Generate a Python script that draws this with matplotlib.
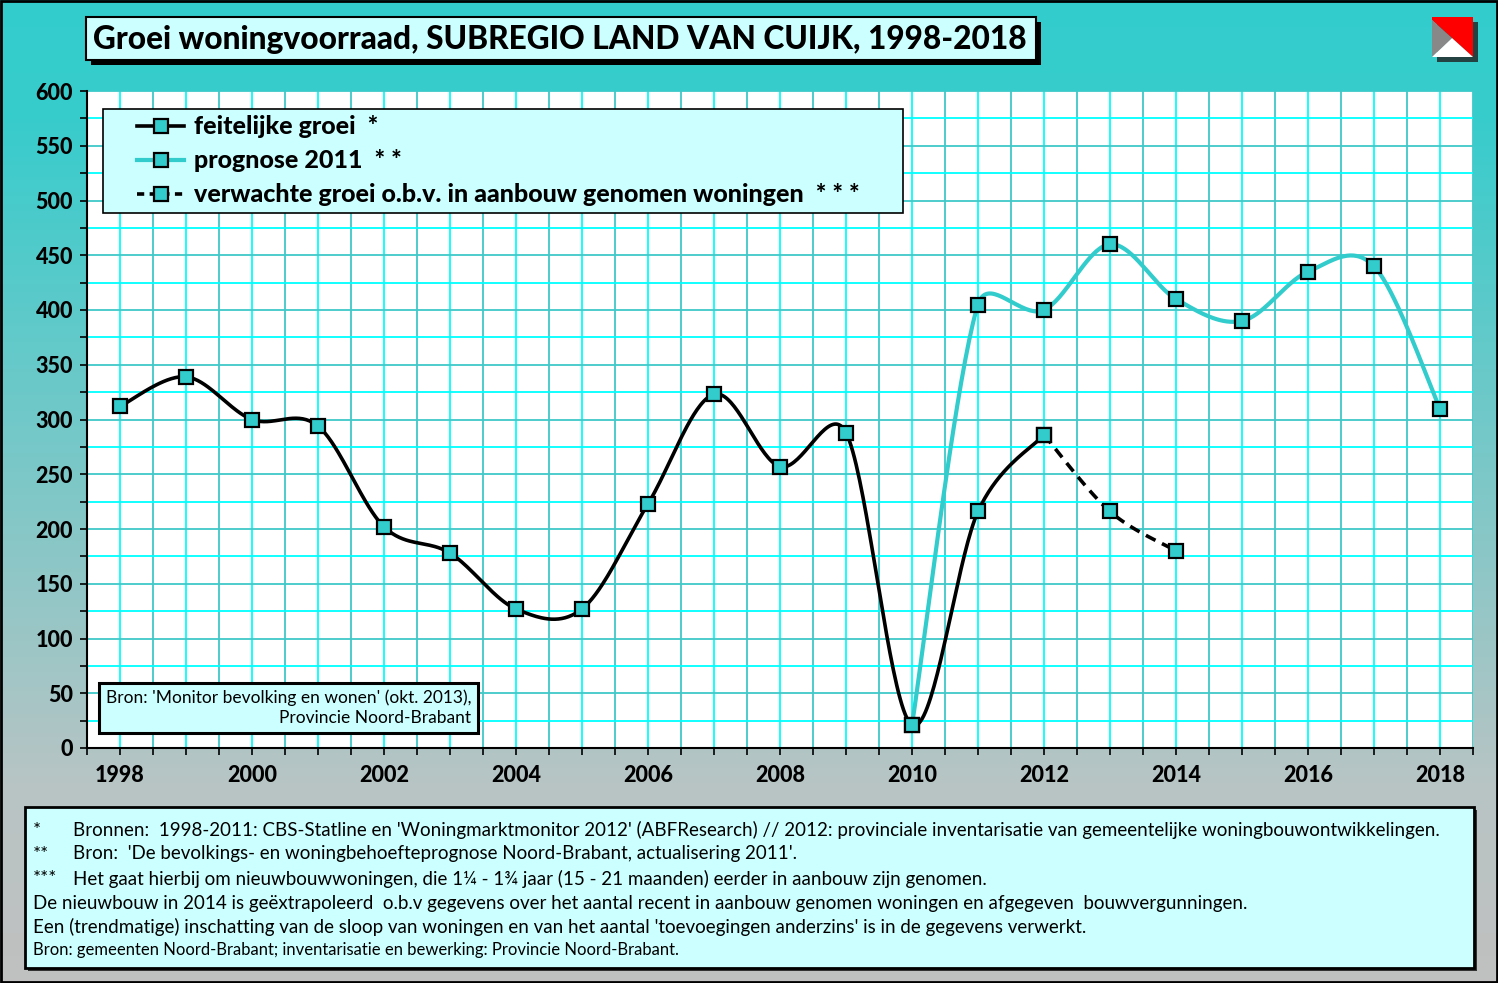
import numpy as np
import matplotlib.pyplot as plt
from matplotlib.lines import Line2D
from matplotlib.patches import Rectangle, Polygon
from matplotlib.colors import LinearSegmentedColormap
from matplotlib.legend_handler import HandlerLine2D

plt.rcParams['font.family'] = ['Lato', 'DejaVu Sans']

# data
jaren_feit = [1998, 1999, 2000, 2001, 2002, 2003, 2004, 2005, 2006, 2007, 2008,
              2009, 2010, 2011, 2012]
feitelijk = [312, 339, 300, 294, 202, 178, 127, 127, 223, 323, 257, 288, 21, 216, 286]

jaren_prog = [2010, 2011, 2012, 2013, 2014, 2015, 2016, 2017, 2018]
prognose = [21, 405, 400, 460, 410, 390, 435, 440, 310]

jaren_verw = [2012, 2013, 2014]
verwacht = [286, 216, 180]

labels = ['feitelijke groei  *', 'prognose 2011  * *',
          'verwachte groei o.b.v. in aanbouw genomen woningen  * * *']

titel = 'Groei woningvoorraad, SUBREGIO LAND VAN CUIJK, 1998-2018'
bron = "Bron: 'Monitor bevolking en wonen' (okt. 2013),\nProvincie Noord-Brabant"
noten = [
    ('*', "Bronnen:  1998-2011: CBS-Statline en 'Woningmarktmonitor 2012' (ABFResearch) // 2012: provinciale inventarisatie van gemeentelijke woningbouwontwikkelingen."),
    ('* *', "Bron:  'De bevolkings- en woningbehoefteprognose Noord-Brabant, actualisering 2011'."),
    ('* * *', "Het gaat hierbij om nieuwbouwwoningen, die 1¼ - 1¾ jaar (15 - 21 maanden) eerder in aanbouw zijn genomen."),
    ('', "De nieuwbouw in 2014 is geëxtrapoleerd  o.b.v gegevens over het aantal recent in aanbouw genomen woningen en afgegeven  bouwvergunningen."),
    ('', "Een (trendmatige) inschatting van de sloop van woningen en van het aantal 'toevoegingen anderzins' is in de gegevens verwerkt."),
]
noot_bron = 'Bron: gemeenten Noord-Brabant; inventarisatie en bewerking: Provincie Noord-Brabant.'

TEAL = '#33CCCC'
LICHT = '#CCFFFF'
W, H = 1498, 983


def smooth(ax, xs, ys, n=40):
    # Excel-achtige smoothing, berekend in schermcoordinaten
    p = ax.transData.transform(np.column_stack([xs, ys]).astype(float))
    uit = [p[:1]]
    t = np.linspace(0, 1, n)[1:, None]
    for i in range(len(p) - 1):
        p0 = p[max(i - 1, 0)]
        p1 = p[i]
        p2 = p[i + 1]
        p3 = p[min(i + 2, len(p) - 1)]
        d12 = np.hypot(*(p2 - p1))
        d02 = np.hypot(*(p2 - p0))
        d13 = np.hypot(*(p3 - p1))
        if d02 / 6 < d12 / 2 or d02 == 0:
            c1 = p1 + (p2 - p0) / 6
        else:
            c1 = p1 + (p2 - p0) * d12 / (2 * d02)
        if d13 / 6 < d12 / 2 or d13 == 0:
            c2 = p2 - (p3 - p1) / 6
        else:
            c2 = p2 - (p3 - p1) * d12 / (2 * d13)
        seg = (1 - t) ** 3 * p1 + 3 * (1 - t) ** 2 * t * c1 + 3 * (1 - t) * t ** 2 * c2 + t ** 3 * p2
        uit.append(seg)
    uit = ax.transData.inverted().transform(np.vstack(uit))
    return uit[:, 0], uit[:, 1]


class Inspring(HandlerLine2D):
    # handle wat naar rechts, zoals in het origineel
    def __init__(self, shift, **kw):
        super().__init__(**kw)
        self.shift = shift

    def create_artists(self, legend, orig_handle, xdescent, ydescent, width, height,
                       fontsize, trans):
        arts = super().create_artists(legend, orig_handle, xdescent, ydescent, width,
                                      height, fontsize, trans)
        x0 = -xdescent
        for a in arts:
            x = np.asarray(a.get_xdata(), dtype=float)
            a.set_xdata(x0 + self.shift + (x - x0) * (width - self.shift) / width)
        return arts


fig = plt.figure(figsize=(W / 100, H / 100), dpi=100)

# achtergrond in pixels
bg = fig.add_axes([0, 0, 1, 1], zorder=0)
bg.set_xlim(0, W)
bg.set_ylim(H, 0)
bg.axis('off')
cmap = LinearSegmentedColormap.from_list('bg', [(0, '#33CCCC'), (0.12, '#38CCCC'),
                                                (0.8, '#B8C4C4'), (1, '#C0C0C0')])
bg.imshow(np.linspace(0, 1, 256)[:, None], cmap=cmap, aspect='auto',
          extent=[0, W, H, 0], zorder=0)
bg.add_patch(Rectangle((1, 1), W - 2, H - 2, fill=False, ec='black', lw=2, zorder=5))

# titel
bg.add_patch(Rectangle((91, 22), 950, 43, fc='black', ec='none', zorder=2))
bg.add_patch(Rectangle((86, 17), 950, 43, fc=LICHT, ec='black', lw=1.5, zorder=3))
bg.text(93, 39, titel, fontsize=22.8, fontweight='black', va='center', ha='left', zorder=4)

# logo
bg.add_patch(Rectangle((1437, 22), 41, 40, fc='#202020', ec='none', alpha=0.8, zorder=2))
bg.add_patch(Polygon([(1432, 17), (1473, 17), (1473, 57), (1452, 38), (1432, 20)],
                     fc='#FF0000', ec='none', zorder=3))
bg.add_patch(Polygon([(1432, 20), (1452, 38), (1432, 57)], fc='#888888', ec='none', zorder=3))
bg.add_patch(Polygon([(1432, 57), (1452, 38), (1473, 57)], fc='white', ec='none', zorder=3))

# voetnoten
bg.add_patch(Rectangle((28, 810), 1449, 161, fc='#333333', ec='none', zorder=2))
bg.add_patch(Rectangle((25, 807), 1449, 161, fc=LICHT, ec='black', lw=2, zorder=3))
regel_y = [830, 854, 879, 903, 927]
for (ster, tekst), y in zip(noten, regel_y):
    if ster:
        bg.text(33, y, ster.replace(' ', ''), fontsize=13.5, va='center', zorder=4)
        bg.text(73, y, tekst, fontsize=13.5, va='center', zorder=4)
    else:
        bg.text(33, y, tekst, fontsize=13.5, va='center', zorder=4)
bg.text(33, 950, noot_bron, fontsize=12, va='center', zorder=4)

# grafiek
ax = fig.add_axes([87 / W, 1 - 748 / H, 1386 / W, 657 / H], zorder=1)
ax.set_facecolor('white')
ax.set_xlim(1997.5, 2018.5)
ax.set_ylim(0, 600)

ax.set_xticks(np.arange(1998, 2019, 1))
ax.set_xticklabels([str(j) if j % 2 == 0 else '' for j in range(1998, 2019)])
ax.set_xticks(np.arange(1997.5, 2019, 1), minor=True)
ax.set_yticks(np.arange(0, 601, 50))
ax.set_yticks(np.arange(25, 600, 50), minor=True)
ax.grid(which='major', axis='x', color='#00FFFF', lw=1.3)
ax.grid(which='minor', axis='x', color='#40C8C8', lw=1.3)
ax.grid(which='major', axis='y', color='#40C8C8', lw=1.3)
ax.grid(which='minor', axis='y', color='#00FFFF', lw=1.3)
ax.set_axisbelow(True)
ax.tick_params(which='both', direction='out', length=5, width=1.2, color='black')
ax.tick_params(axis='x', pad=7, labelsize=15.5)
ax.tick_params(axis='y', pad=5, labelsize=15.5)
for lab in ax.get_xticklabels() + ax.get_yticklabels():
    lab.set_fontweight('black')
for s in ['top', 'right']:
    ax.spines[s].set_visible(False)
for s in ['left', 'bottom']:
    ax.spines[s].set_linewidth(1.5)

mk = dict(marker='s', markersize=10.5, markerfacecolor=TEAL, markeredgecolor='black',
          markeredgewidth=1.6, linestyle='none', zorder=5)

xs, ys = smooth(ax, jaren_verw, verwacht)
ax.plot(xs, ys, color='black', lw=2.6, ls=(0, (3, 2)), zorder=3)
xs, ys = smooth(ax, jaren_feit, feitelijk)
ax.plot(xs, ys, color='black', lw=2.6, zorder=3)
xs, ys = smooth(ax, jaren_prog, prognose)
ax.plot(xs, ys, color=TEAL, lw=3, zorder=4)
ax.plot(jaren_feit, feitelijk, **mk)
ax.plot(jaren_prog, prognose, **mk)
ax.plot(jaren_verw, verwacht, **mk)

hk = dict(marker='s', markersize=10.5, markerfacecolor=TEAL, markeredgecolor='black',
          markeredgewidth=1.6)
handles = [
    Line2D([], [], color='black', lw=2.6, **hk),
    Line2D([], [], color=TEAL, lw=3, **hk),
    Line2D([], [], color='black', lw=2.6, ls=(0, (2, 1.5)), **hk),
]
leg = ax.legend(handles, labels, loc='upper left', mode='expand',
                bbox_to_anchor=(16 / 1386, 0.5, 800 / 1386, (748 - 109) / 657 - 0.5),
                borderaxespad=0, fancybox=False, framealpha=1, facecolor=LICHT,
                edgecolor='black', handlelength=3.0, handletextpad=0.4,
                labelspacing=0.44, borderpad=0.25,
                handler_map={h: Inspring(20) for h in handles},
                prop={'weight': 'black', 'size': 18})
leg.get_frame().set_linewidth(1.2)
leg.set_zorder(6)

# bron-kader
ax.text((471 - 87) / 1386, (748 - 708) / 657, bron, transform=ax.transAxes,
        ha='right', va='center', fontsize=12.5, linespacing=1.3, zorder=7,
        bbox=dict(boxstyle='square,pad=0.4', fc=LICHT, ec='black', lw=2.2))

fig.savefig('out.png', dpi=100)
